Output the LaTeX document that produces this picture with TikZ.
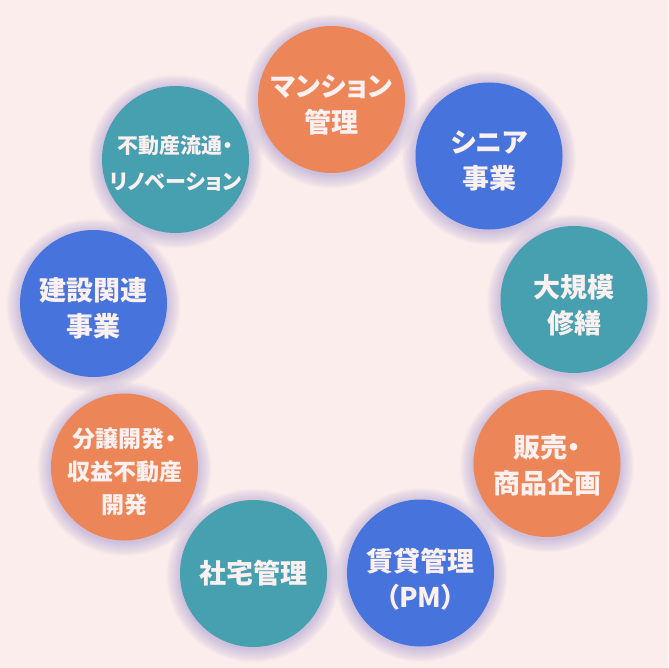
\documentclass[tikz,border=0pt]{standalone}
\usepackage{fontspec}
\newfontfamily\jpfont{Noto Sans CJK JP}[RawFeature=+palt]
\usepackage{tikz}
\usetikzlibrary{backgrounds}
\usepackage{xcolor}
\definecolor{paper}{RGB}{252,237,237}
\definecolor{mansion}{RGB}{236,134,88}
\definecolor{royal}{RGB}{70,115,220}
\definecolor{teal}{RGB}{71,160,176}
\definecolor{halo}{RGB}{140,130,200}
\definecolor{ink}{RGB}{253,240,240}

\tikzset{
  bubble/.style={circle, minimum size=147pt, inner sep=0pt},
  captext/.style={align=center, text=ink, inner sep=0pt,
    font=\jpfont\bfseries\fontsize{27}{36}\selectfont},
}

\begin{document}
\begin{tikzpicture}[x=1pt, y=-1pt]
  \useasboundingbox (0,0) rectangle (668,668);
  % business fields round the ring, clockwise from the top
  \node[bubble, fill=mansion, label={[captext, yshift=-5pt]center:{マンション\\管理}}]
    (kanri) at (331.5, 99.5) {};
  \node[bubble, fill=royal, label={[captext, yshift=-5pt]center:{シニア\\事業}}]
    (senior) at (489, 156) {};
  \node[bubble, fill=teal, label={[captext, yshift=-6pt]center:{大規模\\修繕}}]
    (shuzen) at (574, 299.5) {};
  \node[bubble, fill=mansion, label={[captext, yshift=-2pt]center:{販売・\\商品企画}}]
    (hanbai) at (547, 463.5) {};
  \node[bubble, fill=royal, label={[captext, yshift=-6pt]center:{賃貸管理\\（PM）}}]
    (chintai) at (420.5, 573) {};
  \node[bubble, fill=teal, label={[captext]center:社宅管理}]
    (shataku) at (253.5, 573.5) {};
  \node[bubble, fill=mansion, label={[captext, yshift=-5pt,
      font=\jpfont\bfseries\fontsize{23}{33}\selectfont]center:{分譲開発・\\収益不動産\\開発}}]
    (bunjo) at (124.5, 467) {};
  \node[bubble, fill=royal, label={[captext, yshift=-5pt]center:{建設関連\\事業}}]
    (kensetsu) at (93.5, 303.5) {};
  \node[bubble, fill=teal, label={[captext, yshift=-4pt,
      font=\jpfont\bfseries\fontsize{21}{36}\selectfont]center:{不動産流通・\\リノベーション}}]
    (ryutsu) at (175.5, 159.5) {};
  % soft lavender glow behind every circle
  \begin{scope}[on background layer]
    \fill[paper] (0,0) rectangle (668,668);
    \foreach \n in {kanri,senior,shuzen,hanbai,chintai,shataku,bunjo,kensetsu,ryutsu}
      \foreach \k in {1,...,14}
        \fill[halo, opacity=0.03] ([yshift=-2pt]\n.center) circle (73pt+\k pt);
  \end{scope}
\end{tikzpicture}
\end{document}
